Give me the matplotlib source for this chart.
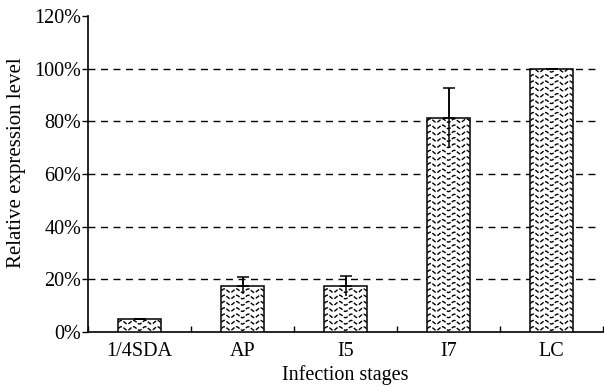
import numpy as np
import matplotlib
matplotlib.use("Agg")
import matplotlib.pyplot as plt
from matplotlib.ticker import FuncFormatter

categories = ["1/4SDA", "AP", "I5", "I7", "LC"]
values = [4.8, 17.6, 17.6, 81.2, 100.0]
errors = [0.3, 3.1, 3.8, 11.3, 0.0]
yticks = [0, 20, 40, 60, 80, 100, 120]

plt.rcParams['font.family'] = ['Liberation Serif', 'DejaVu Serif']

W, H = 604, 387
fig = plt.figure(figsize=(W / 100, H / 100), dpi=100)
ax_l, ax_r, ax_b, ax_t = 88, 603, 332, 16
ax = fig.add_axes([ax_l / W, 1 - ax_b / H, (ax_r - ax_l) / W, (ax_b - ax_t) / H])

x = np.arange(len(categories))
bw = 0.41
bars = ax.bar(x, values, width=bw, facecolor='white', edgecolor='black', linewidth=1.1, zorder=3)

ax.set_xlim(-0.5, len(categories) - 0.5)
ax.set_ylim(0, 120)

# wavy texture inside bars (decoration)
px_x = (len(categories)) / (ax_r - ax_l)   # data units per pixel in x
px_y = 120 / (ax_b - ax_t)                   # data units per pixel in y
for b in bars:
    x0 = b.get_x()
    w = b.get_width()
    h = b.get_height()
    xs = np.linspace(x0, x0 + w, 200)
    row = 3.5 * px_y
    while row < h:
        ys = row + 1.8 * px_y * np.sin(2 * np.pi * (xs - x0) / (12 * px_x))
        ln, = ax.plot(xs, ys, color='black', lw=1.0, linestyle=(0, (3, 1.2)), zorder=3.5)
        ln.set_clip_path(b)
        row += 6.3 * px_y

# error bars: stem and upper cap
ax.errorbar(x, values, yerr=errors, fmt='none', ecolor='black', elinewidth=1.1, capsize=0, zorder=4)
ax.errorbar(x, values, yerr=[np.zeros(len(errors)), errors], fmt='none', ecolor='black',
            elinewidth=1.1, capsize=4, capthick=1.1, zorder=4)

ax.set_yticks(yticks)
ax.yaxis.set_major_formatter(FuncFormatter(lambda v, p: f"{int(v)}%"))
for yv in yticks[1:-1]:
    ax.plot([-0.5, 4.47], [yv, yv], color='black', lw=1.0, linestyle=(0, (5, 4)), zorder=1)

ax.set_xticks(x)
ax.set_xticklabels(categories)
ax.set_xticks(np.arange(-0.5, len(categories)), minor=True)
ax.tick_params(axis='x', which='major', length=0, labelsize=14.5, pad=7)
ax.tick_params(axis='x', which='minor', length=4, direction='in', width=1)
ax.tick_params(axis='y', which='major', length=4, direction='out', width=1, labelsize=14.5, pad=1)

for s in ['top', 'right']:
    ax.spines[s].set_visible(False)
for s in ['left', 'bottom']:
    ax.spines[s].set_linewidth(1.2)

ax.set_ylabel("Relative expression level", fontsize=15)
ax.yaxis.set_label_coords(-62 / (ax_r - ax_l), 0.535)
ax.set_xlabel("Infection stages", fontsize=14.5, labelpad=3)

fig.savefig("out.png", dpi=100)
